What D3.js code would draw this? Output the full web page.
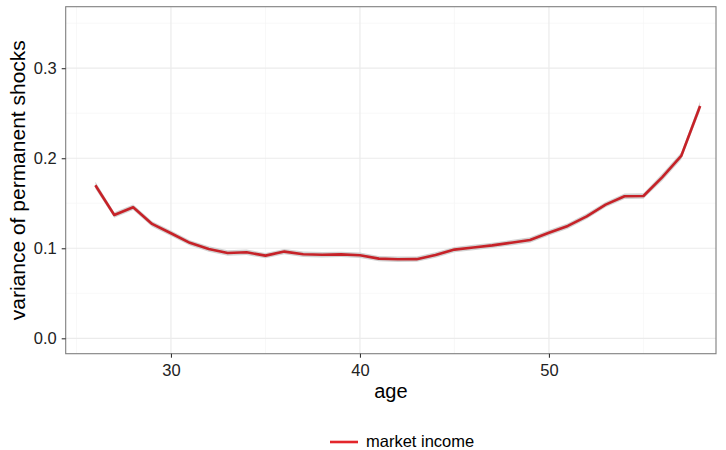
<!DOCTYPE html>
<html><head><meta charset="utf-8">
<script src="https://cdn.jsdelivr.net/npm/d3@7/dist/d3.min.js"></script>
<style>body{margin:0;background:#fff}svg{display:block}text{font-family:"Liberation Sans",Arial,sans-serif}</style>
</head><body>
<svg id="c" width="726" height="450"></svg>
<script>
// data
const ages = [26,27,28,29,30,31,32,33,34,35,36,37,38,39,40,41,42,43,44,45,46,47,48,49,50,51,52,53,54,55,56,57,58];
const variance = [0.170,0.137,0.1455,0.127,0.1167,0.106,0.0992,0.0948,0.0955,0.0918,0.0963,0.0933,0.0928,0.0932,0.0922,0.0885,0.0878,0.0879,0.0925,0.0985,0.1008,0.1032,0.1062,0.1092,0.1172,0.1248,0.1355,0.1485,0.1578,0.1580,0.1790,0.2025,0.2580];
const bandHalf = [0.004,0.003,0.003,0.003,0.003,0.003,0.003,0.003,0.003,0.003,0.003,0.003,0.003,0.003,0.003,0.003,0.003,0.003,0.003,0.003,0.003,0.003,0.003,0.003,0.003,0.003,0.003,0.003,0.003,0.003,0.004,0.004,0.005];
const xMajor = [30,40,50];
const xMinor = [25,35,45,55];
const yMajor = [0.0,0.1,0.2,0.3];
const yMinor = [0.05,0.15,0.25,0.35];
const seriesName = "market income";
const xTitle = "age";
const yTitle = "variance of permanent shocks";

const svg = d3.select("#c");
const L = 65.7, R = 716, T = 6.7, B = 353.7;
const x = d3.scaleLinear().domain([24.43, 58.84]).range([L, R]);
const y = d3.scaleLinear().domain([-0.01711, 0.3683]).range([B, T]);

const data = ages.map((a,i)=>({a, v:variance[i], h:bandHalf[i]}));

const g = svg.append("g");
// minor grid
g.selectAll(".xmin").data(xMinor).enter().append("line")
 .attr("x1",d=>x(d)).attr("x2",d=>x(d)).attr("y1",T).attr("y2",B)
 .attr("stroke","#f5f5f5").attr("stroke-width",0.7);
g.selectAll(".ymin").data(yMinor).enter().append("line")
 .attr("y1",d=>y(d)).attr("y2",d=>y(d)).attr("x1",L).attr("x2",R)
 .attr("stroke","#f5f5f5").attr("stroke-width",0.7);
// major grid
g.selectAll(".xmaj").data(xMajor).enter().append("line")
 .attr("x1",d=>x(d)).attr("x2",d=>x(d)).attr("y1",T).attr("y2",B)
 .attr("stroke","#ebebeb").attr("stroke-width",1.2);
g.selectAll(".ymaj").data(yMajor).enter().append("line")
 .attr("y1",d=>y(d)).attr("y2",d=>y(d)).attr("x1",L).attr("x2",R)
 .attr("stroke","#ebebeb").attr("stroke-width",1.2);

// ribbon
const area = d3.area().x(d=>x(d.a)).y0(d=>y(d.v-d.h)).y1(d=>y(d.v+d.h));
g.append("path").datum(data).attr("d",area).attr("fill","#bfbfbf").attr("opacity",0.7);
// line
const line = d3.line().x(d=>x(d.a)).y(d=>y(d.v));
g.append("path").datum(data).attr("d",line).attr("fill","none")
 .attr("stroke","#c62228").attr("stroke-width",2.6).attr("stroke-linejoin","round");

// panel border
svg.append("rect").attr("x",L).attr("y",T).attr("width",R-L).attr("height",B-T)
 .attr("fill","none").attr("stroke","#7f7f7f").attr("stroke-width",1.1);

// axes
const xAxis = d3.axisBottom(x).tickValues(xMajor).tickSize(4).tickPadding(7).tickFormat(d3.format("d"));
const yAxis = d3.axisLeft(y).tickValues(yMajor).tickSize(4).tickPadding(5).tickFormat(d3.format(".1f"));
const xa = svg.append("g").attr("transform",`translate(0,${B})`).call(xAxis);
const ya = svg.append("g").attr("transform",`translate(${L},0)`).call(yAxis);
[xa,ya].forEach(a=>{
  a.select(".domain").remove();
  a.selectAll(".tick line").attr("stroke","#333").attr("stroke-width",1.1);
  a.selectAll(".tick text").attr("fill","#222").style("font-size","16.5px");
});

svg.append("text").attr("x",(L+R)/2).attr("y",398).attr("text-anchor","middle")
 .style("font-size","20px").attr("fill","#000").text(xTitle);
svg.append("text").attr("transform",`translate(25,${(T+B)/2}) rotate(-90)`).attr("text-anchor","middle")
 .style("font-size","21px").attr("fill","#000").text(yTitle);

// legend
svg.append("line").attr("x1",330).attr("x2",358).attr("y1",442).attr("y2",442)
 .attr("stroke","#e3262b").attr("stroke-width",2.6);
svg.append("text").attr("x",366).attr("y",447).style("font-size","16.5px").attr("fill","#000").text(seriesName);
</script>
</body></html>
